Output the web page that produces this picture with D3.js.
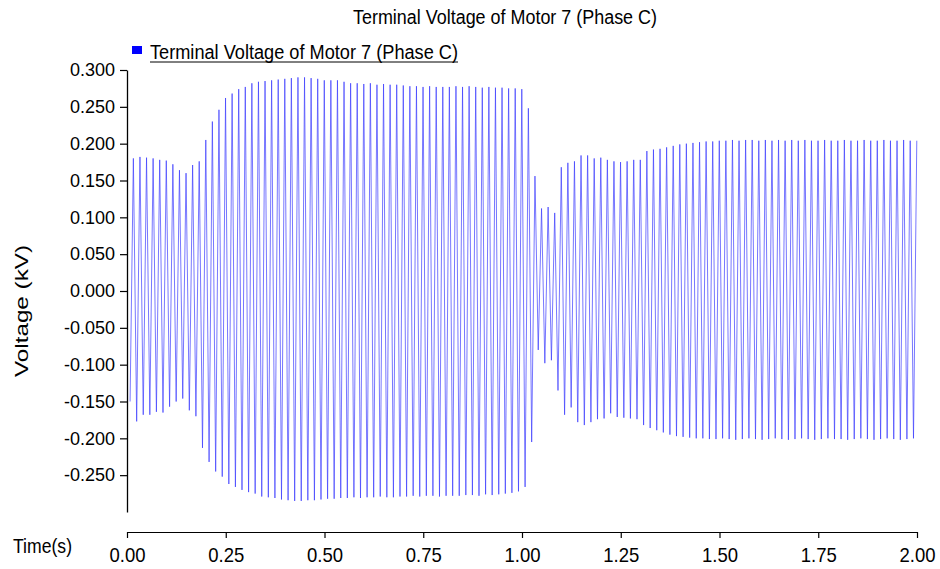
<!DOCTYPE html>
<html>
<head>
<meta charset="utf-8">
<script src="https://cdn.jsdelivr.net/npm/d3@7"></script>
<style>
  body { margin: 0; background: #ffffff; }
  svg { display: block; font-family: "Liberation Sans", Arial, sans-serif; }
</style>
</head>
<body>
<svg id="chart" width="940" height="569"></svg>
<script>
// ---- chart text ----
const chartTitle = "Terminal Voltage of Motor 7 (Phase C)";
const seriesName = "Terminal Voltage of Motor 7 (Phase C)";
const xLabel = "Time(s)";
const yLabel = "Voltage (kV)";

// ---- axis ticks ----
const xTicks = [0, 0.25, 0.5, 0.75, 1.0, 1.25, 1.5, 1.75, 2.0];
const yTicks = [-0.25, -0.2, -0.15, -0.1, -0.05, 0, 0.05, 0.1, 0.15, 0.2, 0.25, 0.3];

// ---- 60 Hz waveform: one trough and one peak per cycle (kV) ----
const firstTroughTime = 0.0078;   // s
const cycleSeconds = 1 / 60;      // s

const peaks = [
  0.180, 0.182, 0.181, 0.180, 0.178, 0.177, 0.172, 0.164, 0.160, 0.171,
  0.176, 0.205, 0.230, 0.246, 0.262, 0.268, 0.274, 0.277, 0.282, 0.284,
  0.285, 0.286, 0.287, 0.288, 0.289, 0.290, 0.290, 0.289, 0.288, 0.286,
  0.286, 0.286, 0.284, 0.282, 0.282, 0.281, 0.282, 0.280, 0.281, 0.280,
  0.280, 0.279, 0.278, 0.278, 0.277, 0.278, 0.277, 0.277, 0.277, 0.278,
  0.277, 0.278, 0.277, 0.276, 0.277, 0.276, 0.276, 0.275, 0.275, 0.274,
  0.248, 0.156, 0.112, 0.114, 0.106, 0.168, 0.174, 0.176, 0.184, 0.184,
  0.180, 0.181, 0.178, 0.176, 0.175, 0.176, 0.178, 0.178, 0.190, 0.192,
  0.193, 0.195, 0.197, 0.199, 0.200, 0.201, 0.202, 0.203, 0.203, 0.204,
  0.204, 0.205, 0.204, 0.205, 0.205, 0.204, 0.205, 0.204, 0.205, 0.204,
  0.205, 0.204, 0.205, 0.204, 0.204, 0.205, 0.204, 0.204, 0.205, 0.204,
  0.204, 0.205, 0.204, 0.204, 0.205, 0.204, 0.204, 0.205, 0.204, 0.204
];

const troughs = [
  -0.150, -0.177, -0.168, -0.168, -0.164, -0.165, -0.157, -0.150, -0.146, -0.162,
  -0.170, -0.213, -0.232, -0.245, -0.252, -0.262, -0.266, -0.270, -0.273, -0.275,
  -0.279, -0.280, -0.281, -0.283, -0.284, -0.285, -0.285, -0.284, -0.284, -0.283,
  -0.282, -0.282, -0.281, -0.281, -0.280, -0.281, -0.280, -0.280, -0.279, -0.280,
  -0.280, -0.279, -0.279, -0.278, -0.279, -0.278, -0.278, -0.279, -0.278, -0.278,
  -0.278, -0.277, -0.277, -0.278, -0.276, -0.277, -0.276, -0.275, -0.274, -0.272,
  -0.266, -0.205, -0.080, -0.098, -0.094, -0.135, -0.168, -0.158, -0.178, -0.182,
  -0.178, -0.174, -0.173, -0.166, -0.171, -0.172, -0.173, -0.174, -0.182, -0.186,
  -0.189, -0.192, -0.195, -0.197, -0.198, -0.199, -0.200, -0.200, -0.201, -0.201,
  -0.200, -0.201, -0.202, -0.201, -0.200, -0.201, -0.202, -0.201, -0.200, -0.201,
  -0.202, -0.201, -0.200, -0.201, -0.202, -0.201, -0.200, -0.201, -0.201, -0.202,
  -0.201, -0.200, -0.201, -0.202, -0.201, -0.200, -0.201, -0.202, -0.201, -0.200
];

// ---- drawing ----
const svg = d3.select("#chart");

const x = d3.scaleLinear().domain([0, 2]).range([127, 917]);
const y = d3.scaleLinear().domain([-0.3, 0.3]).range([512, 70]);

// alternating trough / peak points along the time axis
const points = [];
troughs.forEach((v, k) => {
  points.push({ t: firstTroughTime + k * cycleSeconds, v: v });
  points.push({ t: firstTroughTime + (k + 0.5) * cycleSeconds, v: peaks[k] });
});

const line = d3.line().x(d => x(d.t)).y(d => y(d.v));

svg.append("path")
  .datum(points)
  .attr("d", line)
  .attr("fill", "none")
  .attr("stroke", "#3c3cff")
  .attr("stroke-width", 0.7)
  .attr("stroke-linejoin", "miter");

// y axis
const yAxis = svg.append("g")
  .attr("transform", "translate(127,0)")
  .call(d3.axisLeft(y)
    .tickValues(yTicks)
    .tickFormat(v => v.toFixed(3))
    .tickSize(7)
    .tickPadding(5)
    .tickSizeOuter(0));
yAxis.select(".domain").attr("stroke", "#000").attr("stroke-width", 1.3);
yAxis.selectAll(".tick line").attr("stroke", "#000").attr("stroke-width", 1.2);
yAxis.selectAll(".tick text")
  .attr("fill", "#000")
  .attr("font-size", 18)
  .attr("font-family", "'Liberation Sans', Arial, sans-serif");

// x axis
const xAxis = svg.append("g")
  .attr("transform", "translate(0,532)")
  .call(d3.axisBottom(x)
    .tickValues(xTicks)
    .tickFormat(v => v.toFixed(2))
    .tickSize(6)
    .tickSizeOuter(0));
xAxis.select(".domain").attr("stroke", "#000").attr("stroke-width", 1.2);
xAxis.selectAll(".tick line").attr("stroke", "#000").attr("stroke-width", 1.2);
xAxis.selectAll(".tick text")
  .attr("fill", "#000")
  .attr("font-size", 21)
  .attr("font-family", "'Liberation Sans', Arial, sans-serif")
  .attr("dy", null)
  .attr("y", 29.5)
  .attr("textLength", 36)
  .attr("lengthAdjust", "spacingAndGlyphs");

// axis titles
svg.append("text")
  .attr("x", 13)
  .attr("y", 553)
  .attr("font-size", 21)
  .attr("fill", "#000")
  .attr("textLength", 59)
  .attr("lengthAdjust", "spacingAndGlyphs")
  .text(xLabel);

svg.append("text")
  .attr("transform", "translate(28,311) rotate(-90)")
  .attr("text-anchor", "middle")
  .attr("font-size", 19)
  .attr("fill", "#000")
  .attr("textLength", 132)
  .attr("lengthAdjust", "spacingAndGlyphs")
  .text(yLabel);

// title
svg.append("text")
  .attr("x", 353)
  .attr("y", 24)
  .attr("font-size", 20)
  .attr("fill", "#000")
  .attr("textLength", 304)
  .attr("lengthAdjust", "spacingAndGlyphs")
  .text(chartTitle);

// legend
const legend = svg.append("g");
legend.append("rect")
  .attr("x", 132).attr("y", 46)
  .attr("width", 10).attr("height", 8)
  .attr("fill", "#0000ff");
legend.append("text")
  .attr("x", 150)
  .attr("y", 59)
  .attr("font-size", 20)
  .attr("fill", "#000")
  .attr("textLength", 308)
  .attr("lengthAdjust", "spacingAndGlyphs")
  .text(seriesName);
legend.append("line")
  .attr("x1", 150).attr("x2", 458)
  .attr("y1", 62).attr("y2", 62)
  .attr("stroke", "#000")
  .attr("stroke-width", 1);
</script>
</body>
</html>
